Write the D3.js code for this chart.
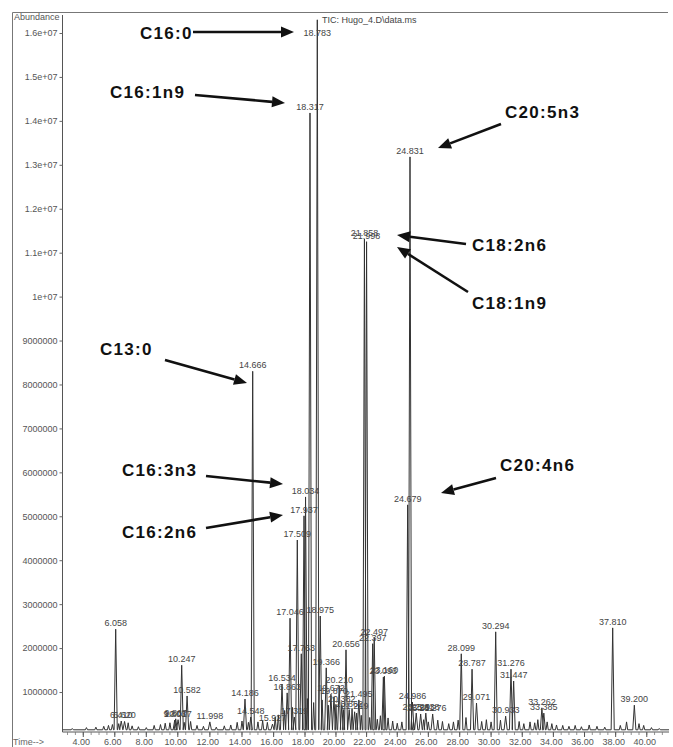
<!DOCTYPE html>
<html>
<head>
<meta charset="utf-8">
<script src="https://cdn.jsdelivr.net/npm/d3@7"></script>
<style>
  html, body { margin: 0; padding: 0; background: #fff; }
  svg { display: block; }
</style>
</head>
<body>
<svg id="chart" width="673" height="747"></svg>
<script>
// Labelled peaks of the TIC trace: retention time (min) and apex abundance
const peakTimes = [
  6.058, 6.410, 6.620, 9.803, 9.867, 10.017, 10.247, 10.582, 11.998,
  14.186, 14.548, 14.666, 15.927, 16.534, 16.863, 17.046, 17.319, 17.509,
  17.763, 17.937, 18.034, 18.317, 18.783, 18.975, 19.366, 19.672, 19.870,
  20.210, 20.382, 20.656, 20.862, 21.219, 21.495, 21.858, 21.998, 22.397,
  22.497, 23.093, 23.160, 24.679, 24.831, 24.986, 25.229, 25.511, 25.838,
  26.276, 28.099, 28.787, 29.071, 30.294, 30.933, 31.276, 31.447, 33.262,
  33.385, 37.810, 39.200
];
const peakHeights = [
  2430000, 340000, 330000, 360000, 390000, 370000, 1610000, 910000, 320000,
  840000, 430000, 8300000, 270000, 1180000, 980000, 2680000, 430000, 4460000,
  1870000, 5010000, 5440000, 14180000, 16300000, 2730000, 1550000, 950000, 890000,
  1140000, 700000, 1960000, 600000, 550000, 820000, 11310000, 11250000, 2100000,
  2240000, 1340000, 1360000, 5260000, 13180000, 770000, 520000, 500000, 520000,
  500000, 1870000, 1520000, 750000, 2370000, 450000, 1520000, 1250000, 640000,
  520000, 2460000, 700000
];

// Small unlabelled peaks along the baseline
const minorTimes = [
  3.3, 4.2, 4.8, 5.3, 5.6, 5.85, 6.25, 6.85, 7.1, 7.5, 8.0, 8.5, 8.9, 9.2,
  9.5, 10.4, 10.8, 11.2, 11.6, 12.4, 12.9, 13.3, 13.7, 14.0, 14.4, 15.0, 15.3,
  15.6, 16.1, 16.3, 16.7, 17.2, 18.15, 18.55, 19.1, 19.5, 20.0, 20.5, 21.05,
  21.35, 21.65, 22.2, 22.7, 22.9, 23.4, 23.7, 24.0, 24.3, 25.05, 25.7, 26.0,
  26.6, 26.9, 27.3, 27.6, 27.9, 28.4, 29.4, 29.7, 30.0, 30.6, 31.8, 32.1,
  32.5, 32.8, 33.0, 33.6, 33.9, 34.2, 34.6, 35.0, 35.4, 35.8, 36.3, 36.8,
  37.3, 38.3, 38.7, 39.5, 39.8, 40.3, 40.8
];
const minorHeights = [
  170000, 190000, 200000, 220000, 240000, 260000, 280000, 300000, 230000, 210000,
  190000, 240000, 260000, 290000, 300000, 310000, 330000, 240000, 220000, 200000,
  230000, 250000, 310000, 340000, 310000, 320000, 350000, 310000, 430000, 480000,
  580000, 650000, 850000, 760000, 820000, 700000, 720000, 600000, 620000, 520000,
  470000, 420000, 380000, 460000, 410000, 340000, 290000, 320000, 330000, 370000,
  320000, 360000, 330000, 280000, 320000, 360000, 420000, 330000, 370000, 320000,
  360000, 330000, 280000, 320000, 300000, 370000, 320000, 280000, 250000, 240000,
  220000, 240000, 210000, 250000, 220000, 200000, 240000, 320000, 280000, 240000,
  190000, 170000
];
const baselineLevel = 140000;

// Axis ticks
const yTickValues = [1e6, 2e6, 3e6, 4e6, 5e6, 6e6, 7e6, 8e6, 9e6, 1e7, 1.1e7, 1.2e7, 1.3e7, 1.4e7, 1.5e7, 1.6e7];
const yTickLabels = ["1000000", "2000000", "3000000", "4000000", "5000000", "6000000", "7000000",
  "8000000", "9000000", "1e+07", "1.1e+07", "1.2e+07", "1.3e+07", "1.4e+07", "1.5e+07", "1.6e+07"];
const xTickValues = [4, 6, 8, 10, 12, 14, 16, 18, 20, 22, 24, 26, 28, 30, 32, 34, 36, 38, 40];

// Fatty acid methyl ester callouts
const acidNames = ["C16:0", "C16:1n9", "C20:5n3", "C18:2n6", "C18:1n9", "C13:0", "C16:3n3", "C16:2n6", "C20:4n6"];

const W = 673, H = 747;
const svg = d3.select("#chart");
const plot = { left: 62.5, right: 669, top: 13, bottom: 732 };

// Time axis of the printed trace is slightly uneven, so the scale is piecewise
const x = d3.scaleLinear()
  .domain([6.058, 10.247, 14.666, 18.783, 24.831, 30.294, 37.81])
  .range([115.7, 181.7, 252.7, 317.3, 410, 495.7, 612.7]);
const y = d3.scaleLinear().domain([90000, 16000000]).range([plot.bottom, 33]);
const tMin = x.invert(plot.left), tMax = x.invert(plot.right);

const labelFont = "Liberation Sans, Arial, sans-serif";

// Outer frame (top and left edges)
svg.append("path")
  .attr("d", `M12.5,${H} V12.5 H668`)
  .attr("fill", "none").attr("stroke", "#777").attr("stroke-width", 1);

svg.append("text").attr("x", 14).attr("y", 20)
  .attr("font-family", labelFont).attr("font-size", 9).attr("fill", "#555")
  .text("Abundance");

svg.append("text").attr("x", 322).attr("y", 23)
  .attr("font-family", labelFont).attr("font-size", 9).attr("fill", "#444")
  .text("TIC: Hugo_4.D\\data.ms");

// Y axis
const yAxis = d3.axisLeft(y).tickValues(yTickValues)
  .tickFormat((d, i) => yTickLabels[i]).tickSize(3).tickPadding(2);
const gy = svg.append("g").attr("transform", `translate(${plot.left},0)`).call(yAxis);
gy.select(".domain").attr("d", `M0,${plot.top + 2}V${plot.bottom}`).attr("stroke", "#555");
gy.selectAll(".tick line").attr("stroke", "#666");
gy.selectAll("text").attr("font-family", labelFont).attr("font-size", 9).attr("fill", "#555");

// X axis: minor ticks every 0.5 min, labelled every 2 min
const minorTicks = d3.range(3, 41.01, 0.5);
const gx = svg.append("g").attr("transform", `translate(0,${plot.bottom})`);
gx.append("line").attr("x1", plot.left).attr("x2", plot.right).attr("y1", 0).attr("y2", 0)
  .attr("stroke", "#555");
gx.selectAll("line.minor").data(minorTicks).join("line").attr("class", "minor")
  .attr("x1", d => x(d)).attr("x2", d => x(d)).attr("y1", 0).attr("y2", 3)
  .attr("stroke", "#777").attr("stroke-width", 0.8);
gx.selectAll("line.major").data(xTickValues).join("line").attr("class", "major")
  .attr("x1", d => x(d)).attr("x2", d => x(d)).attr("y1", 0).attr("y2", 5)
  .attr("stroke", "#555");
gx.selectAll("text").data(xTickValues).join("text")
  .attr("x", d => x(d) - 2).attr("y", 13)
  .attr("text-anchor", "middle")
  .attr("font-family", labelFont).attr("font-size", 9).attr("fill", "#555")
  .text(d3.format(".2f"));
svg.append("text").attr("x", 13).attr("y", 745)
  .attr("font-family", labelFont).attr("font-size", 9).attr("fill", "#666")
  .text("Time-->");

// Chromatogram trace built from the peak lists
const peaks = peakTimes.map((t, i) => ({ t, h: peakHeights[i], w: 0.1 }))
  .concat(minorTimes.map((t, i) => ({ t, h: minorHeights[i], w: 0.07 })))
  .sort((a, b) => a.t - b.t);
const pts = [[tMin, baselineLevel]];
peaks.forEach(p => {
  pts.push([p.t - p.w, baselineLevel], [p.t, p.h], [p.t + p.w, baselineLevel]);
});
pts.push([tMax, baselineLevel]);

svg.append("defs").append("clipPath").attr("id", "plotClip")
  .append("rect").attr("x", plot.left).attr("y", plot.top)
  .attr("width", plot.right - plot.left).attr("height", plot.bottom - plot.top);

svg.append("path")
  .datum(pts)
  .attr("clip-path", "url(#plotClip)")
  .attr("fill", "none")
  .attr("stroke", "#333")
  .attr("stroke-width", 1)
  .attr("stroke-linejoin", "round")
  .attr("d", d3.line().x(d => x(d[0])).y(d => y(d[1])));

// Retention-time labels above each labelled peak
svg.append("g").selectAll("text")
  .data(peakTimes.map((t, i) => ({ t, h: peakHeights[i] })))
  .join("text")
  .attr("x", d => x(d.t))
  .attr("y", d => Math.max(y(d.h) - 3, 36))
  .attr("text-anchor", "middle")
  .attr("font-family", labelFont).attr("font-size", 9).attr("fill", "#444")
  .text(d => d3.format(".3f")(d.t));

// Callout layout: text anchor and arrow from/to (pixels)
const callouts = [
  { tx: 140, ty: 39,  a: [193, 32],  b: [294, 32] },
  { tx: 110, ty: 98,  a: [195, 95],  b: [285, 103] },
  { tx: 505, ty: 118, a: [501, 124], b: [438, 148] },
  { tx: 472, ty: 251, a: [466, 244], b: [397, 235] },
  { tx: 472, ty: 309, a: [468, 292], b: [397, 247] },
  { tx: 100, ty: 355, a: [165, 360], b: [247, 383] },
  { tx: 122, ty: 476, a: [206, 476], b: [283, 484] },
  { tx: 122, ty: 538, a: [206, 528], b: [283, 515] },
  { tx: 500, ty: 471, a: [496, 478], b: [441, 493] }
];

const ann = svg.append("g");
callouts.forEach((c, i) => {
  ann.append("text").attr("x", c.tx).attr("y", c.ty)
    .attr("font-family", labelFont).attr("font-weight", "bold")
    .attr("font-size", 17).attr("letter-spacing", 1.3).attr("fill", "#111")
    .text(acidNames[i]);
  const dx = c.b[0] - c.a[0], dy = c.b[1] - c.a[1];
  const len = Math.hypot(dx, dy), ux = dx / len, uy = dy / len;
  const hl = 13, hw = 5.5;
  const bx = c.b[0] - ux * hl, by = c.b[1] - uy * hl;
  ann.append("line").attr("x1", c.a[0]).attr("y1", c.a[1]).attr("x2", bx).attr("y2", by)
    .attr("stroke", "#111").attr("stroke-width", 2.6);
  ann.append("path")
    .attr("d", `M${c.b[0]},${c.b[1]} L${bx - uy * hw},${by + ux * hw} L${bx + uy * hw},${by - ux * hw} Z`)
    .attr("fill", "#111");
});
</script>
</body>
</html>
